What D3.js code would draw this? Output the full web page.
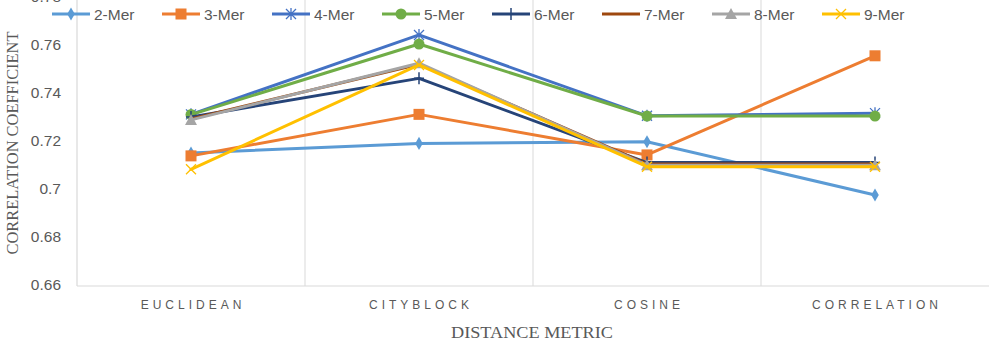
<!DOCTYPE html>
<html><head><meta charset="utf-8">
<script src="https://cdn.jsdelivr.net/npm/d3@7"></script>
<style>body{margin:0;background:#fff}svg{display:block}</style>
</head><body>
<script>
const categories = ["EUCLIDEAN", "CITYBLOCK", "COSINE", "CORRELATION"];
const seriesNames = ["2-Mer", "3-Mer", "4-Mer", "5-Mer", "6-Mer", "7-Mer", "8-Mer", "9-Mer"];
const mer2 = [0.715, 0.719, 0.7197, 0.6975];
const mer3 = [0.7138, 0.7311, 0.7142, 0.7555];
const mer4 = [0.7311, 0.7642, 0.7305, 0.7316];
const mer5 = [0.7310, 0.7604, 0.7304, 0.7304];
const mer6 = [0.7300, 0.7461, 0.7110, 0.7110];
const mer7 = [0.7292, 0.7520, 0.7104, 0.7104];
const mer8 = [0.7288, 0.7524, 0.7099, 0.7099];
const mer9 = [0.7082, 0.7517, 0.7093, 0.7093];
const seriesValues = [mer2, mer3, mer4, mer5, mer6, mer7, mer8, mer9];
const yTicks = [0.66, 0.68, 0.70, 0.72, 0.74, 0.76, 0.78];
const yTickLabels = ["0.66", "0.68", "0.7", "0.72", "0.74", "0.76", "0.78"];
const colors = ["#5B9BD5", "#ED7D31", "#4472C4", "#70AD47", "#264478", "#9E480E", "#A5A5A5", "#FFC000"];
const markers = ["diamond", "square", "star", "circle", "plus", "none", "triangle", "x"];

(function () {
const W = 992, H = 346;
const mLeft = 77, mRight = 989, mTop = -3, mBottom = 285;
const svg = d3.select("body").append("svg").attr("width", W).attr("height", H);

const x = d3.scaleBand().domain(categories).range([mLeft, mRight]);
const y = d3.scaleLinear().domain([0.66, 0.78]).range([mBottom, mTop]);

const bounds = categories.slice(1).map(c => x(c));
svg.append("g").selectAll("line").data(bounds).join("line")
  .attr("x1", d => d).attr("x2", d => d).attr("y1", 0).attr("y2", mBottom + 1)
  .attr("stroke", "#d9d9d9").attr("stroke-width", 1);

svg.append("line").attr("x1", mLeft).attr("x2", mLeft).attr("y1", 0).attr("y2", mBottom + 1)
  .attr("stroke", "#d9d9d9").attr("stroke-width", 1.2);
svg.append("line").attr("x1", mLeft).attr("x2", mRight).attr("y1", mBottom + 1).attr("y2", mBottom + 1)
  .attr("stroke", "#d9d9d9").attr("stroke-width", 1.2);

const yAxis = d3.axisLeft(y).tickValues(yTicks).tickFormat((d, i) => yTickLabels[i]).tickSize(0).tickPadding(16);
const ga = svg.append("g").attr("transform", `translate(${mLeft},0)`).call(yAxis);
ga.select(".domain").remove();
ga.selectAll("text").attr("font-family", "'Liberation Sans', Arial, sans-serif").attr("font-size", 15.5).attr("fill", "#595959");

const xAxis = d3.axisBottom(x).tickSize(0).tickPadding(14);
const gx = svg.append("g").attr("transform", `translate(0,${mBottom + 1})`).call(xAxis);
gx.select(".domain").remove();
gx.selectAll("text").attr("font-family", "'Liberation Sans Narrow', 'Liberation Sans', Arial, sans-serif")
  .attr("font-size", 12).attr("fill", "#595959").attr("letter-spacing", "4px")
  .attr("dx", "2px");

svg.append("text").attr("x", (mLeft + mRight) / 2 - 1).attr("y", 338).attr("text-anchor", "middle")
  .attr("font-family", "'Liberation Serif', 'Times New Roman', serif").attr("font-size", 17)
  .attr("fill", "#595959").attr("textLength", 162).attr("lengthAdjust", "spacingAndGlyphs")
  .text("DISTANCE METRIC");
svg.append("text").attr("transform", "translate(18,143) rotate(-90)").attr("text-anchor", "middle")
  .attr("font-family", "'Liberation Serif', 'Times New Roman', serif").attr("font-size", 16)
  .attr("fill", "#595959").attr("textLength", 223).attr("lengthAdjust", "spacingAndGlyphs")
  .text("CORRELATION COEFFICIENT");

function drawMarker(g, type, color, cx, cy) {
  if (type === "diamond") {
    g.append("path").attr("d", d3.symbol(d3.symbolDiamond, 50)()).attr("transform", `translate(${cx},${cy})`).attr("fill", color);
  } else if (type === "square") {
    g.append("rect").attr("x", cx - 5.5).attr("y", cy - 5.5).attr("width", 11).attr("height", 11).attr("fill", color);
  } else if (type === "circle") {
    g.append("circle").attr("cx", cx).attr("cy", cy).attr("r", 5.5).attr("fill", color);
  } else if (type === "triangle") {
    g.append("path").attr("d", `M${cx},${cy - 6}L${cx + 6},${cy + 5}L${cx - 6},${cy + 5}Z`).attr("fill", color);
  } else if (type === "plus") {
    g.append("path").attr("d", `M${cx - 5},${cy}H${cx + 5}M${cx},${cy - 6}V${cy + 6}`).attr("stroke", color).attr("stroke-width", 1.5).attr("fill", "none");
  } else if (type === "x") {
    g.append("path").attr("d", `M${cx - 5},${cy - 5}L${cx + 5},${cy + 5}M${cx + 5},${cy - 5}L${cx - 5},${cy + 5}`).attr("stroke", color).attr("stroke-width", 1.3).attr("fill", "none");
  } else if (type === "star") {
    g.append("path").attr("d", `M${cx - 5},${cy - 5}L${cx + 5},${cy + 5}M${cx + 5},${cy - 5}L${cx - 5},${cy + 5}M${cx},${cy - 6}V${cy + 6}`).attr("stroke", color).attr("stroke-width", 1.3).attr("fill", "none");
  }
}

const line = d3.line().x((d, i) => x(categories[i]) + x.bandwidth() / 2).y(d => y(d));
seriesValues.forEach((vals, si) => {
  const g = svg.append("g");
  g.append("path").datum(vals).attr("d", line).attr("fill", "none")
    .attr("stroke", colors[si]).attr("stroke-width", 3).attr("stroke-linejoin", "round").attr("stroke-linecap", "round");
  vals.forEach((v, i) => drawMarker(g, markers[si], colors[si], x(categories[i]) + x.bandwidth() / 2, y(v)));
});

const legX0 = 52, legStep = 110, legY = 14;
seriesNames.forEach((name, si) => {
  const g = svg.append("g");
  const lx = legX0 + si * legStep;
  g.append("line").attr("x1", lx).attr("x2", lx + 38).attr("y1", legY).attr("y2", legY)
    .attr("stroke", colors[si]).attr("stroke-width", 3);
  drawMarker(g, markers[si], colors[si], lx + 19, legY);
  g.append("text").attr("x", lx + 42).attr("y", legY + 5.5)
    .attr("font-family", "'Liberation Sans', Arial, sans-serif").attr("font-size", 15.5).attr("fill", "#595959")
    .text(name);
});
})();
</script>
</body></html>
